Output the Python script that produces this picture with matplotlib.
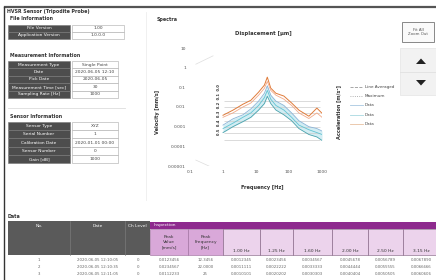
import numpy as np
import matplotlib
matplotlib.use('Agg')
import matplotlib.pyplot as plt
from matplotlib.patches import Rectangle, Polygon

# ---- data ----
file_labels = ['File Version', 'Application Version']
file_values = ['1.00', '1.0.0.0']
meas_labels = ['Measurement Type', 'Date', 'Pick Date', 'Measurement Time [sec]', 'Sampling Rate [Hz]']
meas_values = ['Single Point', '2020-06-05 12:10', '2020-06-05', '30', '1000']
sensor_labels = ['Sensor Type', 'Serial Number', 'Calibration Date', 'Sensor Number', 'Gain [dB]']
sensor_values = ['XYZ', '1', '2020-01-01 00:00', '0', '1000']

freq = [1, 2, 4, 7, 12, 18, 22, 28, 40, 70, 120, 200, 400, 700, 1000]
avg_line = [0.0038, 0.0069, 0.0138, 0.022, 0.057, 0.13, 0.33, 0.091, 0.05, 0.036, 0.016, 0.0069, 0.0034, 0.0088, 0.0048]
max_line = [0.0030, 0.0050, 0.0100, 0.016, 0.040, 0.09, 0.20, 0.070, 0.04, 0.025, 0.012, 0.0050, 0.0026, 0.0050, 0.0030]
data1 = [0.0012, 0.0025, 0.0040, 0.008, 0.020, 0.05, 0.12, 0.040, 0.02, 0.012, 0.005, 0.0020, 0.0010, 0.0008, 0.0006]
data2 = [0.0008, 0.0015, 0.0030, 0.005, 0.012, 0.03, 0.07, 0.025, 0.012, 0.007, 0.003, 0.0012, 0.0007, 0.0005, 0.0004]
data3 = [0.0005, 0.0010, 0.0018, 0.003, 0.007, 0.015, 0.035, 0.015, 0.007, 0.004, 0.002, 0.0008, 0.0004, 0.0003, 0.0002]
grid_levels = [0.0002, 0.0005, 0.001, 0.002, 0.005, 0.01, 0.02]
legend_names = ['Line Averaged', 'Maximum', 'Data', 'Data', 'Data']

col_names = ['No.', 'Date', 'Ch Level']
insp_names = ['Peak\nValue\n[mm/s]', 'Peak\nFrequency\n[Hz]']
band_names = ['1.00 Hz', '1.25 Hz', '1.60 Hz', '2.00 Hz', '2.50 Hz', '3.15 Hz']
row_no = ['1', '2', '3']
row_date = ['2020-06-05 12:10:05', '2020-06-05 12:10:35', '2020-06-05 12:11:05']
row_ch = ['0', '0', '0']
row_peak = ['0.0123456', '0.0234567', '0.0112233']
row_pfreq = ['12.3456', '22.0000', '25']
row_bands = [['0.0012345', '0.0023456', '0.0034567', '0.0045678', '0.0056789', '0.0067890'],
             ['0.0011111', '0.0022222', '0.0033333', '0.0044444', '0.0055555', '0.0066666'],
             ['0.0010101', '0.0020202', '0.0030303', '0.0040404', '0.0050505', '0.0060606']]

W, H = 436, 280
fig = plt.figure(figsize=(W / 100, H / 100), dpi=100)
fig.patch.set_facecolor('white')
plt.rcParams['font.family'] = ['DejaVu Sans']

bg = fig.add_axes([0, 0, 1, 1])
bg.set_xlim(0, W)
bg.set_ylim(H, 0)
bg.axis('off')

fs = 3.2
dark = '#4d4d4d'

# frame lines
bg.plot([5, W], [7, 7], color='#555555', lw=1.6)
bg.plot([4, 4], [7, H], color='#333333', lw=1.0)
bg.plot([146, 146], [12, 200], color='#eeeeee', lw=0.6)
bg.text(7, 11, 'HVSR Sensor (Tripodite Probe)', fontsize=3.4, fontweight='bold', color='#333333', va='center')


def info_table(title, ty, labels, values, y0, rh, vx1):
    bg.text(10, ty, title, fontsize=3.4, fontweight='bold', color='#333333', va='center')
    for i, (lab, val) in enumerate(zip(labels, values)):
        y = y0 + i * rh
        bg.add_patch(Rectangle((8, y), 62, rh, facecolor=dark, edgecolor='#777777', lw=0.4))
        bg.add_patch(Rectangle((72, y), vx1 - 72, rh, facecolor='white', edgecolor='#aaaaaa', lw=0.4))
        bg.text(39, y + rh / 2, lab, fontsize=fs, color='white', ha='center', va='center')
        bg.text((72 + vx1) / 2, y + rh / 2, val, fontsize=fs, color='#444444', ha='center', va='center')


info_table('File Information', 19, file_labels, file_values, 24.5, 7.0, 124)
info_table('Measurement Information', 55.5, meas_labels, meas_values, 61, 7.4, 118)
bg.plot([8, 125], [108, 108], color='#dddddd', lw=0.6)
info_table('Sensor Information', 117, sensor_labels, sensor_values, 122, 8.2, 118)

# ---- spectra ----
bg.text(157, 19, 'Spectra', fontsize=3.4, fontweight='bold', color='#333333', va='center')
bg.text(263, 33, 'Displacement [\u00b5m]', fontsize=3.8, fontweight='bold', color='#333333', ha='center', va='center')
bg.text(157, 112, 'Velocity [mm/s]', fontsize=3.6, fontweight='bold', color='#333333', rotation=90, ha='center', va='center')
bg.text(339, 112, 'Acceleration [m/s\u00b2]', fontsize=3.6, fontweight='bold', color='#333333', rotation=90, ha='center', va='center')
bg.text(219, 110, '0.5  0.4  0.3  0.2  0.1  0.0', fontsize=2.6, fontweight='bold', color='#333333', rotation=90, ha='center', va='center')

ax = fig.add_axes([190 / W, 1 - 166 / H, 132 / W, 118 / H])
ax.set_xscale('log')
ax.set_yscale('log')
ax.set_xlim(0.1, 1000)
ax.set_ylim(1e-5, 10)
ax.patch.set_alpha(0)
for s in ax.spines.values():
    s.set_visible(False)
ax.set_xticks([0.1, 1, 10, 100, 1000])
ax.set_xticklabels(['0.1', '1', '10', '100', '1000'])
ax.set_yticks([1e-5, 1e-4, 1e-3, 1e-2, 1e-1, 1, 10])
ax.set_yticklabels(['0.00001', '0.0001', '0.001', '0.01', '0.1', '1', '10'])
ax.minorticks_off()
ax.tick_params(length=0, labelsize=3.2, colors='#555555', pad=3)
ax.set_xlabel('Frequency [Hz]', fontsize=3.6, fontweight='bold', color='#333333', labelpad=6)
ax.xaxis.set_label_coords(0.55, -0.16)

ax.hlines(grid_levels, 1.1, 900, color='#cccccc', lw=0.5)
ax.plot([0.15, 0.5], [1.5, 4], color='#dddddd', lw=0.5)
ax.plot([0.15, 0.5], [2e-5, 1e-5 * 0.8], color='#dddddd', lw=0.5)
ax.fill_between(freq, data3, data1, color='#bfe6ee', alpha=0.7, lw=0)
ax.plot(freq, avg_line, color='#e07b39', lw=0.7, label=legend_names[0])
ax.plot(freq, max_line, color='#f2a988', lw=0.6, label=legend_names[1])
ax.plot(freq, data1, color='#8ab4d8', lw=0.6, label=legend_names[2])
ax.plot(freq, data2, color='#62c3d3', lw=0.6, label=legend_names[3])
ax.plot(freq, data3, color='#4aa3ad', lw=0.6, label=legend_names[4])

leg_styles = [('#999999', '--'), ('#999999', ':'), ('#a8c8e0', '-'), ('#a8d8e0', '-'), ('#e8c0a0', '-')]
for i, (name, (c, ls)) in enumerate(zip(legend_names, leg_styles)):
    y = 87 + i * 9.2
    bg.plot([350, 363], [y, y], color=c, ls=ls, lw=0.6)
    bg.text(365, y, name, fontsize=3.0, color='#444444', va='center')

# buttons
bg.add_patch(Rectangle((402, 22), 32, 20, facecolor='#fafafa', edgecolor='#888888', lw=0.7))
bg.text(418, 32, 'Fit All\nZoom Out', fontsize=2.8, color='#555555', ha='center', va='center', linespacing=1.3)
bg.add_patch(Rectangle((400, 48), 36, 47, facecolor='#f2f2f2', edgecolor='#e0e0e0', lw=0.4))
bg.plot([400, 436], [71.5, 71.5], color='#dddddd', lw=0.5)
bg.add_patch(Polygon([[416, 64], [426, 64], [421, 58.5]], closed=True, facecolor='#222222'))
bg.add_patch(Polygon([[416, 80], [426, 80], [421, 85.5]], closed=True, facecolor='#222222'))

# ---- data table ----
bg.text(8, 217, 'Data', fontsize=3.4, fontweight='bold', color='#333333', va='center')
bg.add_patch(Rectangle((8, 221), 142, 34, facecolor='#5a5a5a', edgecolor='none'))
col_edges = [8, 70, 125, 150]
for x in col_edges[1:-1]:
    bg.plot([x, x], [221, 255], color='#7a7a7a', lw=0.5)
for i, name in enumerate(col_names):
    bg.text((col_edges[i] + col_edges[i + 1]) / 2, 226, name, fontsize=fs, color='white', ha='center', va='center')

bg.add_patch(Rectangle((150, 221.5), W - 150, 7.5, facecolor='#8e2a8e', edgecolor='none'))
bg.text(165, 225, 'Inspection', fontsize=fs, color='white', ha='center', va='center')
insp_edges = [150, 188, 223]
for i, name in enumerate(insp_names):
    bg.add_patch(Rectangle((insp_edges[i], 229), insp_edges[i + 1] - insp_edges[i], 26,
                           facecolor='#d9a8d9', edgecolor='#9a6a9a', lw=0.4))
    bg.text((insp_edges[i] + insp_edges[i + 1]) / 2, 242, name, fontsize=fs, color='#333333',
            ha='center', va='center', linespacing=1.5)
band_edges = [223, 260, 293, 332, 368, 403, 440]
for i, name in enumerate(band_names):
    bg.add_patch(Rectangle((band_edges[i], 229), band_edges[i + 1] - band_edges[i], 26,
                           facecolor='#ecd3ec', edgecolor='#7a5a7a', lw=0.4))
    bg.text((band_edges[i] + band_edges[i + 1]) / 2, 251, name, fontsize=fs, color='#333333',
            ha='center', va='center')

all_edges = col_edges + insp_edges[1:] + band_edges[1:]
for r in range(len(row_no)):
    y = 260 + r * 7
    cells = [row_no[r], row_date[r], row_ch[r], row_peak[r], row_pfreq[r]] + row_bands[r]
    for i, val in enumerate(cells):
        bg.text((all_edges[i] + all_edges[i + 1]) / 2, y, val, fontsize=2.8, color='#666666',
                ha='center', va='center')

fig.savefig('out.png', dpi=100, facecolor='white')
